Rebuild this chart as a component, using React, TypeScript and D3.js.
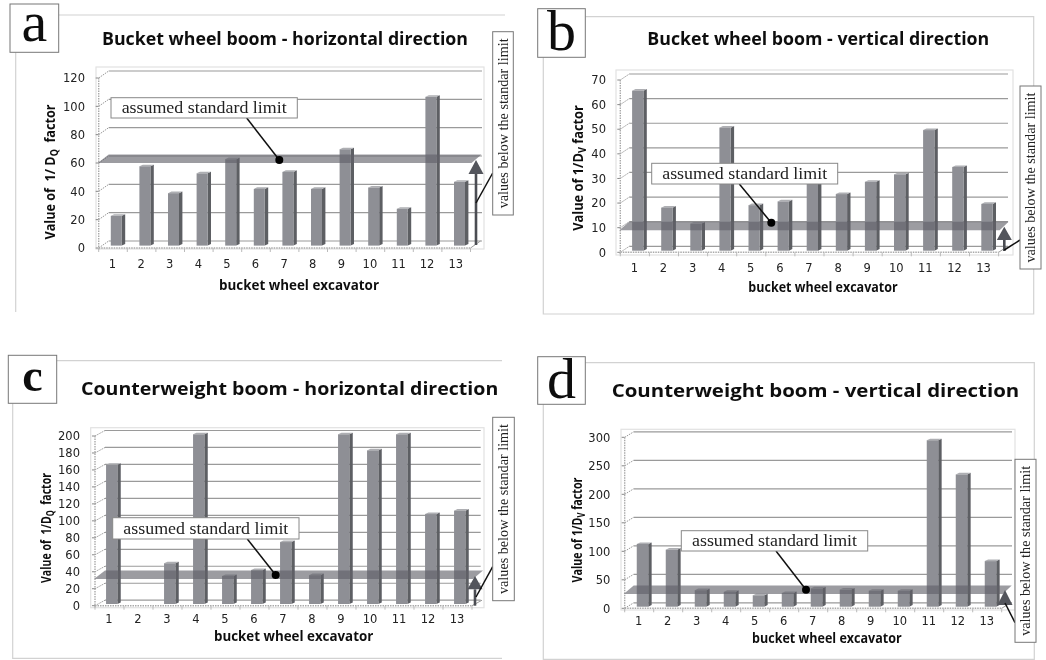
import React from "react";
import * as d3 from "d3";

const categories = ["1","2","3","4","5","6","7","8","9","10","11","12","13"];
const valuesA = [21,56,37,51,61,40,52,40,68,41,26,105,45];
const valuesB = [65,17.5,11,50,18.5,20,27.5,23,28,31,49,34,19];
const valuesC = [164,0,48,200,33,40,73,34,200,181,200,106,110];
const valuesD = [110,100,29,26,20,24,32,30,28,28,292,232,80];
const ticksA = [0,20,40,60,80,100,120];
const ticksB = [0,10,20,30,40,50,60,70];
const ticksC = [0,20,40,60,80,100,120,140,160,180,200];
const ticksD = [0,50,100,150,200,250,300];
const limits = { a: 60, b: 9, c: 31.5, d: 25 };
const LIMIT_LABEL = "assumed standard limit";
const SIDE_LABEL = "values below the standar limit";
const X_TITLE = "bucket wheel excavator";

const SANS = "'Open Sans', 'Noto Sans', sans-serif";
const TICK = "'DejaVu Sans', sans-serif";
const SERIF = "'Liberation Serif', serif";

type Box = [number, number, number, number];
type P = {
  letter: string; title: string; titleBox: [number, number, number]; titleSize: number; values: number[]; ticks: number[]; limit: number;
  yPre: string; ySub: string; yPost: string; yLab: [number, number, number];
  xLab: [number, number, number]; tag: Box; letterY: number; letterSize: number; frame: string;
  outer: Box; x0: number; x1: number; y0: number; yT: number; dx: number; dy: number; gridR: number;
  barDx: number; barDy: number; barW: number; tickRight: number; xTickY: number;
  label: Box; lead: Box; dot: [number, number];
  side: Box; sideLead: Box; arrow: [number, number, number, number, number];
};

const panels: P[] = [
  { letter:"a", title:"Bucket wheel boom - horizontal direction", titleBox:[102,45,366], titleSize:17.5, values:valuesA, ticks:ticksA, limit:limits.a,
    yPre:"Value of  1/ D", ySub:"Q", yPost:"  factor", yLab:[55,172,135], xLab:[219,290,160],
    tag:[10,4,58.7,52.3], letterY:41, letterSize:58, frame:"M58.7 15H505M15.7 52.3V312",
    outer:[96,67,484,249], x0:98.7, x1:470.5, y0:248, yT:78, dx:10, dy:7, gridR:482, barDx:3.3, barDy:-2.4, barW:11, tickRight:85, xTickY:267.7,
    label:[111,97.7,297.3,118], lead:[246.7,118,279.3,160], dot:[279.3,160],
    side:[492.7,31.7,513.3,215], sideLead:[476,203,492.7,173], arrow:[476,245,160,174,7.5] },
  { letter:"b", title:"Bucket wheel boom - vertical direction", titleBox:[647.3,45,342], titleSize:17.5, values:valuesB, ticks:ticksB, limit:limits.b,
    yPre:"Value of 1/D", ySub:"V", yPost:" factor", yLab:[582.7,168,125.7], xLab:[748.3,292,149.4],
    tag:[537.7,8.7,585.3,57.3], letterY:50, letterSize:58, frame:"M585.3 16.7H1033.7V314H543.3V57.3",
    outer:[616,70,1013,255], x0:620.3, x1:998.6, y0:252.3, yT:80, dx:9, dy:6, gridR:1008, barDx:2.9, barDy:-1.6, barW:11.3, tickRight:606, xTickY:272,
    label:[651.7,163.3,837.7,184], lead:[739.3,184,771.3,222.7], dot:[771.3,222.7],
    side:[1020,86,1041,269], sideLead:[1004.3,250,1020,240], arrow:[1004.3,251,226.7,240,7.5] },
  { letter:"c", title:"Counterweight boom - horizontal direction", titleBox:[81,395,417.3], titleSize:18.5, values:valuesC, ticks:ticksC, limit:limits.c,
    yPre:"Value of  1/D", ySub:"Q", yPost:"  factor", yLab:[51,528,110], xLab:[214,640.7,159.3],
    tag:[8.3,355.3,56.7,403.3], letterY:391, letterSize:46, frame:"M56.7 360.7H502M12.7 403.3V658.3H502",
    outer:[90.7,427.7,484,607.7], x0:95, x1:472, y0:605.7, yT:436, dx:10, dy:5.5, gridR:480.7, barDx:2.2, barDy:-1.7, barW:11.3, tickRight:80, xTickY:623.3,
    label:[112.7,517.7,299,539], lead:[247.3,539,275.7,575], dot:[275.7,575],
    side:[492.7,417.3,514.3,600.7], sideLead:[476,597,492.7,566.7], arrow:[475,605.7,576,589.3,7.5] },
  { letter:"d", title:"Counterweight boom - vertical direction", titleBox:[611.7,396.7,407.6], titleSize:18.5, values:valuesD, ticks:ticksD, limit:limits.d,
    yPre:"Value of 1/D", ySub:"V", yPost:" factor", yLab:[581.7,530,105], xLab:[752,642.7,149.7],
    tag:[537.7,356.7,585.3,404.3], letterY:398, letterSize:58, frame:"M585.3 362.7H1034.3V659.3H543.3V404.3",
    outer:[621,429.3,1015,610], x0:624.7, x1:1001.7, y0:608.3, yT:437.3, dx:9, dy:5.5, gridR:1012, barDx:3.3, barDy:-1.6, barW:11.5, tickRight:610.3, xTickY:625.3,
    label:[681.3,530.7,867.7,551], lead:[776,551,806,589.7], dot:[806,589.7],
    side:[1015,459.3,1036,642.3], sideLead:[1005,603,1015,622.7], arrow:[1005,605,590,605,7.5] },
];

function Panel({ p }: { p: P }) {
  const max = p.ticks[p.ticks.length - 1];
  const y = d3.scaleLinear().domain([0, max]).range([p.y0, p.yT]);
  const x = d3.scaleBand().domain(categories).range([p.x0, p.x1]);
  const depth = { w: 3.4, h: 1.6 };
  const xEdges = [...categories.map((c) => x(c)!), p.x1];
  const by = y(p.limit);
  const band = `M${p.x0 - 1} ${by}L${p.x0 + p.dx} ${by - 8.5}H${p.x1 + p.dx + 1}L${p.x1 + 1} ${by}Z`;
  const [ax, ay1, aTip, aBase, aw] = p.arrow;
  const sideCx = (p.side[0] + p.side[2]) / 2;
  const sideCy = (p.side[1] + p.side[3]) / 2;
  return (
    <g>
      <path d={p.frame} fill="none" stroke="#d2d2d2" strokeWidth={1.2} />
      <rect x={p.outer[0]} y={p.outer[1]} width={p.outer[2]-p.outer[0]} height={p.outer[3]-p.outer[1]} fill="#fff" stroke="#e2e2e2" strokeWidth={1.2} />
      <rect x={p.tag[0]} y={p.tag[1]} width={p.tag[2]-p.tag[0]} height={p.tag[3]-p.tag[1]} fill="#fff" stroke="#777" strokeWidth={1} />
      <text x={(p.tag[0]+p.tag[2])/2} y={p.letterY} textAnchor="middle" fontFamily={SERIF} fontSize={p.letterSize} fontWeight={p.letter==="c"?700:400} fill="#111">{p.letter}</text>
      <text x={p.titleBox[0]} y={p.titleBox[1]} fontFamily={SANS} fontWeight={700} fontSize={p.titleSize} textLength={p.titleBox[2]} lengthAdjust="spacingAndGlyphs" fill="#111">{p.title}</text>

      {p.ticks.map((t) => (
        <g key={t}>
          <line x1={p.x0+p.dx} x2={p.gridR} y1={y(t)-p.dy} y2={y(t)-p.dy} stroke="#9a9a9a" strokeWidth={1.2} />
          <line x1={p.x0-3} x2={p.x0} y1={y(t)} y2={y(t)} stroke="#888" />
          <line x1={p.x0} x2={p.x0+p.dx} y1={y(t)} y2={y(t)-p.dy} stroke="#999" strokeDasharray="1.5 1" />
          <text x={p.tickRight} y={y(t)+4.2} textAnchor="end" fontFamily={TICK} fontSize={11.5} fill="#222">{t}</text>
        </g>
      ))}
      <line x1={p.x0} x2={p.x0} y1={p.yT} y2={p.y0+2} stroke="#aaa" strokeWidth={1.4} strokeDasharray="1.5 1" />
      <line x1={p.x0} x2={p.x1} y1={p.y0} y2={p.y0} stroke="#aaa" strokeWidth={1.4} strokeDasharray="1.5 1" />
      <line x1={p.x1} x2={p.x1+p.dx} y1={p.y0} y2={p.y0-p.dy} stroke="#999" />
      {xEdges.map((e, i) => <line key={i} x1={e} x2={e} y1={p.y0} y2={p.y0+4} stroke="#bbb" />)}
      {categories.map((c) => (
        <text key={c} x={x(c)! + x.bandwidth()/2 - 0.5} y={p.xTickY} textAnchor="middle" fontFamily={TICK} fontSize={11.5} fill="#222">{c}</text>
      ))}

      {p.values.map((v, i) => {
        if (v <= 0) return null;
        const c = categories[i];
        const fx = x(c)! + x.bandwidth()/2 + p.barDx - p.barW/2;
        const top = y(v) + p.barDy;
        const bot = y(0) + p.barDy;
        const r = fx + p.barW;
        return (
          <g key={c}>
            <path d={`M${r} ${top}L${r+depth.w} ${top-depth.h}V${bot-depth.h}L${r} ${bot}Z`} fill="#5d5e64" />
            <path d={`M${fx} ${top}L${fx+depth.w} ${top-depth.h}H${r+depth.w}L${r} ${top}Z`} fill="#aeafb3" />
            <rect x={fx} y={top} width={p.barW} height={bot-top} fill="#8e8f95" />
          </g>
        );
      })}

      <path d={band} fill="#5f6068" fillOpacity={0.62} />

      <line x1={ax} x2={ax} y1={ay1} y2={aBase} stroke="#4b4d52" strokeWidth={2.6} />
      <path d={`M${ax} ${aTip}L${ax+aw} ${aBase}H${ax-aw}Z`} fill="#53555b" />
      <line x1={p.sideLead[0]} y1={p.sideLead[1]} x2={p.sideLead[2]} y2={p.sideLead[3]} stroke="#111" strokeWidth={1.5} />
      <rect x={p.side[0]} y={p.side[1]} width={p.side[2]-p.side[0]} height={p.side[3]-p.side[1]} fill="#fff" stroke="#777" strokeWidth={1} />
      <text transform={`translate(${sideCx+4.5},${sideCy}) rotate(-90)`} textAnchor="middle" fontFamily={SERIF} fontSize={14} textLength={170} lengthAdjust="spacingAndGlyphs" fill="#222">{SIDE_LABEL}</text>

      <line x1={p.lead[0]} y1={p.lead[1]} x2={p.lead[2]} y2={p.lead[3]} stroke="#111" strokeWidth={1.5} />
      <circle cx={p.dot[0]} cy={p.dot[1]} r={4} fill="#000" />
      <rect x={p.label[0]} y={p.label[1]} width={p.label[2]-p.label[0]} height={p.label[3]-p.label[1]} fill="#fff" stroke="#888" strokeWidth={1} />
      <text x={(p.label[0]+p.label[2])/2} y={p.label[3]-5.5} textAnchor="middle" fontFamily={SERIF} fontSize={17} textLength={165} lengthAdjust="spacingAndGlyphs" fill="#222">{LIMIT_LABEL}</text>

      <text transform={`translate(${p.yLab[0]},${p.yLab[1]}) rotate(-90)`} textAnchor="middle" fontFamily={SANS} fontWeight={700} fontSize={14} textLength={p.yLab[2]} lengthAdjust="spacingAndGlyphs" fill="#111" style={{ whiteSpace: "pre" }}>
        {p.yPre}<tspan dy={3} fontSize={10}>{p.ySub}</tspan><tspan dy={-3}>{p.yPost}</tspan>
      </text>
      <text x={p.xLab[0]} y={p.xLab[1]} fontFamily={SANS} fontWeight={700} fontSize={13.5} textLength={p.xLab[2]} lengthAdjust="spacingAndGlyphs" fill="#111">{X_TITLE}</text>
    </g>
  );
}

export default function App() {
  return (
    <svg width={1046} height={660} viewBox="0 0 1046 660" style={{ position: "absolute", left: 0, top: 0, background: "#fff" }}>
      <defs>
        <filter id="soft" x="0" y="0" width="100%" height="100%">
          <feGaussianBlur stdDeviation={0.4} />
        </filter>
      </defs>
      <g filter="url(#soft)">
        <rect width={1046} height={660} fill="#fff" />
        {panels.map((p) => <Panel key={p.letter} p={p} />)}
      </g>
    </svg>
  );
}
